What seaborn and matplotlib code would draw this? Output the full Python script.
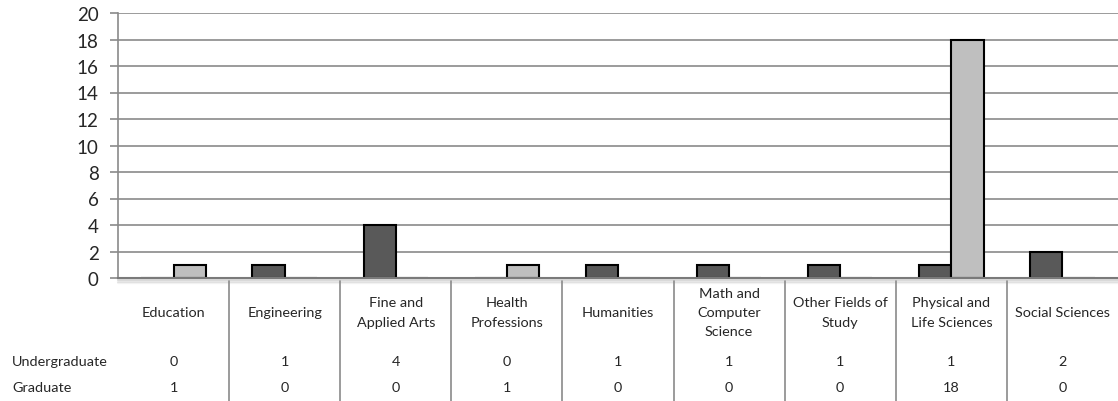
import matplotlib.pyplot as plt
import matplotlib.transforms as mtransforms
import pandas as pd
import seaborn as sns

# data
categories = [
    "Education", "Engineering", "Fine and Applied Arts", "Health Professions",
    "Humanities", "Math and Computer Science", "Other Fields of Study",
    "Physical and Life Sciences", "Social Sciences",
]
cat_labels = [
    "Education", "Engineering", "Fine and\nApplied Arts", "Health\nProfessions",
    "Humanities", "Math and\nComputer\nScience", "Other Fields of\nStudy",
    "Physical and\nLife Sciences", "Social Sciences",
]
undergraduate = [0, 1, 4, 0, 1, 1, 1, 1, 2]
graduate = [1, 0, 0, 1, 0, 0, 0, 18, 0]
series = ["Undergraduate", "Graduate"]

df = pd.DataFrame({
    "field": categories * 2,
    "level": [series[0]] * len(categories) + [series[1]] * len(categories),
    "count": undergraduate + graduate,
})

GRID = "#8a8a8a"
FS = 10.4
sns.set_style("white")
plt.rcParams["font.family"] = ["Lato", "DejaVu Sans"]

fig = plt.figure(figsize=(11.18, 4.02), dpi=100)
ax = fig.add_axes([118 / 1118, 123 / 402, 1000 / 1118, 265 / 402])

sns.barplot(
    data=df, x="field", y="count", hue="level", order=categories,
    hue_order=series, palette=["#595959", "#bfbfbf"], width=0.58,
    edgecolor="black", linewidth=1.5, saturation=1, ax=ax, legend=False,
)

ax.set_xlim(-0.5, len(categories) - 0.5)
ax.set_ylim(0, 20)
ax.set_yticks(range(0, 21, 2))
ax.yaxis.grid(True, color=GRID, linewidth=1.2)
ax.set_axisbelow(True)
ax.set_xlabel("")
ax.set_ylabel("")
ax.set_xticks([])
for s in ["top", "right"]:
    ax.spines[s].set_visible(False)
ax.spines["left"].set_color(GRID)
ax.spines["left"].set_linewidth(1.2)
ax.spines["bottom"].set_color("#7a7a7a")
ax.spines["bottom"].set_linewidth(1.5)
ax.tick_params(axis="y", direction="out", length=6, width=1.2, color=GRID,
               labelsize=13.5, pad=8, left=True)

# soft shadow under the category axis
for k, a in [(2, 0.35), (3.5, 0.2), (5, 0.1)]:
    off = mtransforms.offset_copy(ax.transAxes, fig=fig, y=-k, units="dots")
    ax.plot([0.0, 1.0], [0, 0], transform=off, color="#9a9a9a", alpha=a,
            linewidth=1.6, clip_on=False)

# data table under the plot
tr = ax.get_xaxis_transform()
for i, lab in enumerate(cat_labels):
    ax.text(i, -0.128, lab, transform=tr, ha="center", va="center",
            fontsize=FS, linespacing=1.72)
    ax.text(i, -0.313, str(undergraduate[i]), transform=tr, ha="center",
            va="center", fontsize=FS)
    ax.text(i, -0.411, str(graduate[i]), transform=tr, ha="center",
            va="center", fontsize=FS)
for i in range(len(categories) - 1):
    ax.plot([i + 0.5, i + 0.5], [-0.011, -0.47], transform=tr, color=GRID,
            linewidth=1.2, clip_on=False)

fig.text(12 / 1118, 1 - 362 / 402, series[0], ha="left", va="center", fontsize=FS)
fig.text(12 / 1118, 1 - 388 / 402, series[1], ha="left", va="center", fontsize=FS)

fig.savefig("out.png", dpi=100, facecolor="white")
